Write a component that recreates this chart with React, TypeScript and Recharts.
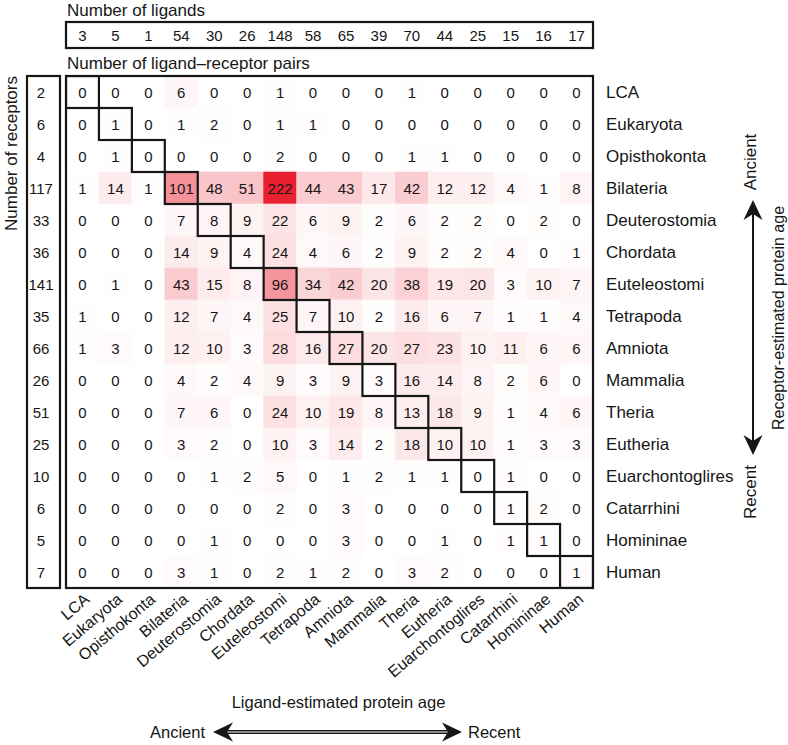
import React from "react";
import { ScatterChart, Scatter, XAxis, YAxis } from "recharts";

// ---------- data ----------
const categories = [
  "LCA", "Eukaryota", "Opisthokonta", "Bilateria", "Deuterostomia", "Chordata",
  "Euteleostomi", "Tetrapoda", "Amniota", "Mammalia", "Theria", "Eutheria",
  "Euarchontoglires", "Catarrhini", "Homininae", "Human",
];
const ligandCounts = [3, 5, 1, 54, 30, 26, 148, 58, 65, 39, 70, 44, 25, 15, 16, 17];
const receptorCounts = [2, 6, 4, 117, 33, 36, 141, 35, 66, 26, 51, 25, 10, 6, 5, 7];

// rows = receptor-estimated age, columns = ligand-estimated age
const rowLCA = [0, 0, 0, 6, 0, 0, 1, 0, 0, 0, 1, 0, 0, 0, 0, 0];
const rowEukaryota = [0, 1, 0, 1, 2, 0, 1, 1, 0, 0, 0, 0, 0, 0, 0, 0];
const rowOpisthokonta = [0, 1, 0, 0, 0, 0, 2, 0, 0, 0, 1, 1, 0, 0, 0, 0];
const rowBilateria = [1, 14, 1, 101, 48, 51, 222, 44, 43, 17, 42, 12, 12, 4, 1, 8];
const rowDeuterostomia = [0, 0, 0, 7, 8, 9, 22, 6, 9, 2, 6, 2, 2, 0, 2, 0];
const rowChordata = [0, 0, 0, 14, 9, 4, 24, 4, 6, 2, 9, 2, 2, 4, 0, 1];
const rowEuteleostomi = [0, 1, 0, 43, 15, 8, 96, 34, 42, 20, 38, 19, 20, 3, 10, 7];
const rowTetrapoda = [1, 0, 0, 12, 7, 4, 25, 7, 10, 2, 16, 6, 7, 1, 1, 4];
const rowAmniota = [1, 3, 0, 12, 10, 3, 28, 16, 27, 20, 27, 23, 10, 11, 6, 6];
const rowMammalia = [0, 0, 0, 4, 2, 4, 9, 3, 9, 3, 16, 14, 8, 2, 6, 0];
const rowTheria = [0, 0, 0, 7, 6, 0, 24, 10, 19, 8, 13, 18, 9, 1, 4, 6];
const rowEutheria = [0, 0, 0, 3, 2, 0, 10, 3, 14, 2, 18, 10, 10, 1, 3, 3];
const rowEuarchontoglires = [0, 0, 0, 0, 1, 2, 5, 0, 1, 2, 1, 1, 0, 1, 0, 0];
const rowCatarrhini = [0, 0, 0, 0, 0, 0, 2, 0, 3, 0, 0, 0, 0, 1, 2, 0];
const rowHomininae = [0, 0, 0, 0, 1, 0, 0, 0, 3, 0, 0, 1, 0, 1, 1, 0];
const rowHuman = [0, 0, 0, 3, 1, 0, 2, 1, 2, 0, 3, 2, 0, 0, 0, 1];

const pairRows = [
  rowLCA, rowEukaryota, rowOpisthokonta, rowBilateria, rowDeuterostomia, rowChordata,
  rowEuteleostomi, rowTetrapoda, rowAmniota, rowMammalia, rowTheria, rowEutheria,
  rowEuarchontoglires, rowCatarrhini, rowHomininae, rowHuman,
];

// ---------- layout / style ----------
const W = 788;
const H = 745;
const PL = 66, PR = 593, PT = 76, PB = 588;
const N = categories.length;
const CW = (PR - PL) / N;
const CH = (PB - PT) / N;
const FONT = '"Liberation Sans", Arial, Helvetica, sans-serif';
const INK = "#161616";

const cells = pairRows.flatMap((row, r) => row.map((v, c) => ({ x: c, y: r, v })));
const diagonal = categories.map((_, i) => ({ x: i, y: i }));
const maxVal = Math.max(...cells.map((d) => d.v));
const ticks = categories.map((_, i) => i);
const domain: [number, number] = [-0.5, N - 0.5];

function cellColor(v: number) {
  const t = Math.pow(v / maxVal, 0.9);
  const r = Math.round(255 + (233 - 255) * t);
  const g = Math.round(255 + (32 - 255) * t);
  const b = Math.round(255 + (48 - 255) * t);
  return `rgb(${r},${g},${b})`;
}

const CellShape = (props: any) => {
  const { cx, cy, payload } = props;
  const v = payload.v as number;
  return (
    <g>
      {v > 0 && (
        <rect x={cx - CW / 2 - 0.3} y={cy - CH / 2 - 0.3} width={CW + 0.6} height={CH + 0.6} fill={cellColor(v)} />
      )}
      <text x={cx} y={cy + 5.5} textAnchor="middle" fontSize={15} fontFamily={FONT} fill={INK}>
        {v}
      </text>
    </g>
  );
};

const DiagShape = (props: any) => {
  const { cx, cy } = props;
  return (
    <rect x={cx - CW / 2} y={cy - CH / 2} width={CW} height={CH} fill="none" stroke={INK} strokeWidth={2.2} />
  );
};

const BottomTick = (props: any) => {
  const { x, y, payload } = props;
  const ax = x + 8;
  const ay = y + 13;
  return (
    <text x={ax} y={ay} textAnchor="end" fontSize={16} fontFamily={FONT} fill={INK} transform={`rotate(-40, ${ax}, ${ay})`}>
      {categories[payload.value]}
    </text>
  );
};

const TopTick = (props: any) => {
  const { x, y, payload } = props;
  return (
    <text x={x} y={y - 41 + 5.5} textAnchor="middle" fontSize={15} fontFamily={FONT} fill={INK}>
      {ligandCounts[payload.value]}
    </text>
  );
};

const LeftTick = (props: any) => {
  const { x, y, payload } = props;
  return (
    <text x={x - 25} y={y + 5.5} textAnchor="middle" fontSize={15} fontFamily={FONT} fill={INK}>
      {receptorCounts[payload.value]}
    </text>
  );
};

const RightTick = (props: any) => {
  const { x, y, payload } = props;
  return (
    <text x={x + 13} y={y + 6} textAnchor="start" fontSize={17} fontFamily={FONT} fill={INK}>
      {categories[payload.value]}
    </text>
  );
};

function head(tx: number, ty: number, dx: number, dy: number) {
  // barbed arrow head, tip at (tx,ty) pointing in direction (dx,dy)
  const L = 20, Wd = 9.5, notch = 14;
  const px = -dy, py = dx;
  const bx = tx - dx * L, by = ty - dy * L;
  const nx = tx - dx * notch, ny = ty - dy * notch;
  return `${tx},${ty} ${bx + px * Wd},${by + py * Wd} ${nx},${ny} ${bx - px * Wd},${by - py * Wd}`;
}

export default function App() {
  const hTop = 60;
  const hBottom = 150;
  const wLeft = 60;
  const wRight = 190;
  return (
    <div style={{ position: "absolute", left: 0, top: 0, width: W, height: H, background: "#fff", fontFamily: FONT }}>
      <ScatterChart
        width={W}
        height={H}
        margin={{ top: PT - hTop, bottom: H - PB - hBottom, left: PL - wLeft, right: W - PR - wRight }}
      >
        <XAxis xAxisId="b" orientation="bottom" type="number" dataKey="x" domain={domain} ticks={ticks} interval={0}
          height={hBottom} axisLine={false} tickLine={false} tickSize={0} tickMargin={0} tick={<BottomTick />} allowDataOverflow />
        <XAxis xAxisId="t" orientation="top" type="number" dataKey="x" domain={domain} ticks={ticks} interval={0}
          height={hTop} axisLine={false} tickLine={false} tickSize={0} tickMargin={0} tick={<TopTick />} allowDataOverflow />
        <YAxis yAxisId="l" orientation="left" type="number" dataKey="y" domain={domain} ticks={ticks} interval={0} reversed
          width={wLeft} axisLine={false} tickLine={false} tickSize={0} tickMargin={0} tick={<LeftTick />} allowDataOverflow />
        <YAxis yAxisId="r" orientation="right" type="number" dataKey="y" domain={domain} ticks={ticks} interval={0} reversed
          width={wRight} axisLine={false} tickLine={false} tickSize={0} tickMargin={0} tick={<RightTick />} allowDataOverflow />
        <Scatter data={cells} xAxisId="b" yAxisId="l" shape={<CellShape />} isAnimationActive={false} />
        <Scatter data={diagonal} xAxisId="t" yAxisId="r" shape={<DiagShape />} isAnimationActive={false} />
      </ScatterChart>

      <svg width={W} height={H} style={{ position: "absolute", left: 0, top: 0, pointerEvents: "none" }}>
        {/* titles */}
        <text x={67} y={15.5} fontSize={17} fontFamily={FONT} fill={INK}>Number of ligands</text>
        <text x={67} y={69} fontSize={17} fontFamily={FONT} fill={INK}>Number of ligand–receptor pairs</text>
        <text x={17} y={153.5} fontSize={17} fontFamily={FONT} fill={INK} textAnchor="middle"
          transform="rotate(-90, 17, 153.5)">Number of receptors</text>

        {/* boxes */}
        <rect x={PL} y={22} width={PR - PL} height={26} fill="none" stroke={INK} strokeWidth={2.2} />
        <rect x={27} y={PT} width={33} height={PB - PT} fill="none" stroke={INK} strokeWidth={2.2} />
        <rect x={PL} y={PT} width={PR - PL} height={PB - PT} fill="none" stroke={INK} strokeWidth={2.2} />

        {/* bottom axis label + arrow */}
        <text x={338.5} y={708} fontSize={16.5} fontFamily={FONT} fill={INK} textAnchor="middle">Ligand-estimated protein age</text>
        <text x={150} y={738} fontSize={16.5} fontFamily={FONT} fill={INK} textAnchor="start">Ancient</text>
        <text x={468} y={738} fontSize={16.5} fontFamily={FONT} fill={INK} textAnchor="start">Recent</text>
        <line x1={223} y1={732} x2={452} y2={732} stroke={INK} strokeWidth={4} />
        <line x1={225} y1={732} x2={450} y2={732} stroke="#fff" strokeWidth={1} />
        <polygon points={head(213, 732, -1, 0)} fill={INK} />
        <polygon points={head(462, 732, 1, 0)} fill={INK} />

        {/* right axis label + arrow */}
        <line x1={753} y1={212} x2={753} y2={443} stroke={INK} strokeWidth={2} />
        <polygon points={head(753, 200, 0, -1)} fill={INK} />
        <polygon points={head(753, 455, 0, 1)} fill={INK} />
        <text x={756} y={162} fontSize={17} fontFamily={FONT} fill={INK} textAnchor="middle"
          transform="rotate(-90, 756, 162)">Ancient</text>
        <text x={756} y={492} fontSize={17} fontFamily={FONT} fill={INK} textAnchor="middle"
          transform="rotate(-90, 756, 492)">Recent</text>
        <text x={784} y={318} fontSize={16} fontFamily={FONT} fill={INK} textAnchor="middle"
          transform="rotate(-90, 784, 318)">Receptor-estimated protein age</text>
      </svg>
    </div>
  );
}
